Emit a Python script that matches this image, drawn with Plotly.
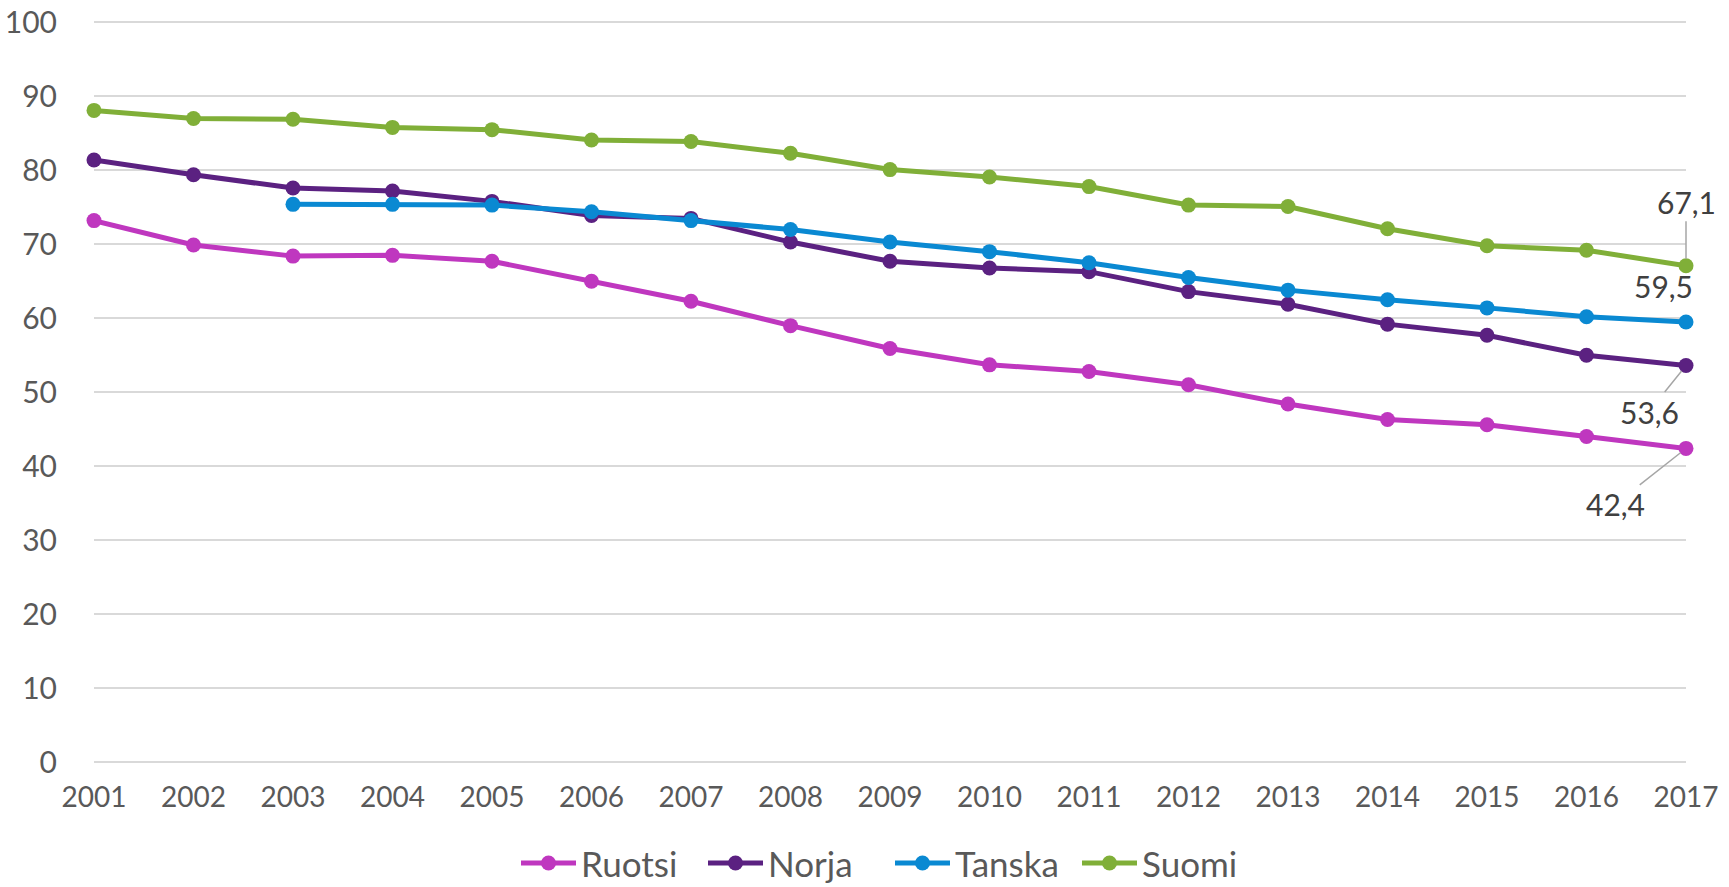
import plotly.graph_objects as go

years = list(range(2001, 2018))
ruotsi = [73.2, 69.9, 68.4, 68.5, 67.7, 65.0, 62.3, 59.0, 55.9, 53.7, 52.8, 51.0, 48.4, 46.3, 45.6, 44.0, 42.4]
norja = [81.4, 79.4, 77.6, 77.2, 75.8, 73.9, 73.5, 70.3, 67.7, 66.8, 66.3, 63.6, 61.9, 59.2, 57.7, 55.0, 53.6]
tanska = [None, None, 75.4, 75.4, 75.3, 74.4, 73.2, 72.0, 70.3, 69.0, 67.5, 65.5, 63.8, 62.5, 61.4, 60.2, 59.5]
suomi = [88.1, 87.0, 86.9, 85.8, 85.5, 84.1, 83.9, 82.3, 80.1, 79.1, 77.8, 75.3, 75.1, 72.1, 69.8, 69.2, 67.1]

names = ["Ruotsi", "Norja", "Tanska", "Suomi"]
colors = ["#BF37BF", "#5B2181", "#0A89D2", "#80AF38"]
series = [ruotsi, norja, tanska, suomi]
y_ticks = list(range(0, 101, 10))

FONT = "Lato"
TXT = "#595959"

fig = go.Figure()
for name, col, vals in zip(names, colors, series):
    fig.add_trace(go.Scatter(
        x=years, y=vals, name=name, mode="lines+markers",
        line=dict(color=col, width=5),
        marker=dict(color=col, size=15),
        cliponaxis=False,
    ))

# end-point data labels
labels = [
    (suomi[-1], "67,1", 0, -64, "#A6A6A6"),
    (tanska[-1], "59,5", -23, -36, "rgba(0,0,0,0)"),
    (norja[-1], "53,6", -37, 46, "#A6A6A6"),
    (ruotsi[-1], "42,4", -71, 56, "#A6A6A6"),
]
for yv, txt, ax, ay, ac in labels:
    fig.add_annotation(
        x=years[-1], y=yv, text=txt, showarrow=True, arrowhead=0,
        arrowwidth=1.5, arrowcolor=ac, ax=ax, ay=ay, standoff=7,
        font=dict(family=FONT, size=30, color="#404040"),
    )

fig.update_layout(
    width=1729, height=887,
    margin=dict(l=94, r=43, t=15, b=125, autoexpand=False),
    paper_bgcolor="white", plot_bgcolor="white",
    font=dict(family=FONT, color=TXT),
    showlegend=True,
    legend=dict(orientation="h", x=0.5, xanchor="center", y=-0.096, yanchor="top",
                font=dict(family=FONT, size=35, color=TXT), itemwidth=55,
                entrywidth=117, entrywidthmode="pixels",
                traceorder="normal"),
    separators=", ",
)
fig.update_xaxes(
    range=[2001, 2017], tickmode="array", tickvals=years,
    ticktext=[str(y) for y in years], showgrid=False, zeroline=False,
    showline=False, ticks="", tickfont=dict(family=FONT, size=28, color=TXT),
    ticklabelstandoff=16, automargin=False, ticklabeloverflow="allow",
)
fig.update_yaxes(
    range=[0, 101], tickmode="array", tickvals=y_ticks,
    ticktext=[str(v) for v in y_ticks], showgrid=True,
    gridcolor="#D9D9D9", gridwidth=1.5, zeroline=True, zerolinecolor="#D9D9D9",
    zerolinewidth=1.5, showline=False, ticks="",
    tickfont=dict(family=FONT, size=30, color=TXT), ticklabelstandoff=36,
    automargin=False, ticklabeloverflow="allow",
)

fig.write_html("out.html", post_script="document.body.style.margin='0px';",
               config={"displayModeBar": False})
